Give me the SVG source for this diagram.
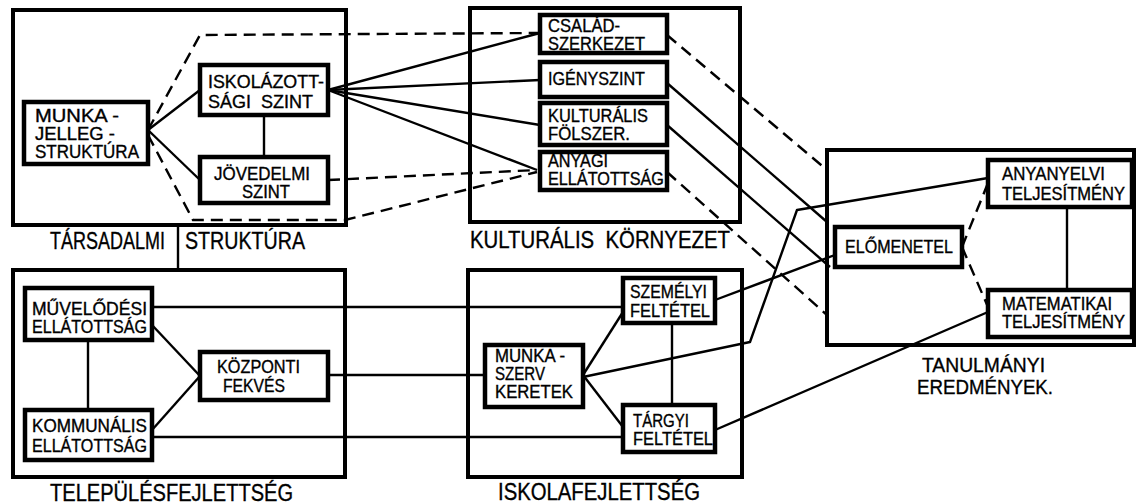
<svg xmlns="http://www.w3.org/2000/svg" width="1137" height="504" viewBox="0 0 1137 504">
<style>
.outer{fill:none;stroke:#000;stroke-width:4}
.box{fill:#fff;stroke:#000;stroke-width:4.5}
.ln{fill:none;stroke:#000;stroke-width:2.4;stroke-linejoin:round}
.ds{fill:none;stroke:#000;stroke-width:2.4;stroke-dasharray:12 7}
text{font-family:"Liberation Sans","DejaVu Sans",sans-serif;font-size:17.5px;fill:#000;stroke:#000;stroke-width:0.35}
.lab{font-size:23px}
.lab2{font-size:20px}
</style>
<rect width="1137" height="504" fill="#fff"/>
<g id="frames">
<rect class="outer" x="13" y="10" width="333" height="215"/>
<rect class="outer" x="470" y="8" width="270" height="214"/>
<rect class="outer" x="13" y="270" width="332" height="207"/>
<rect class="outer" x="468" y="270" width="274" height="207"/>
<rect class="outer" x="827" y="150" width="307" height="195"/>
</g>
<g id="connectors">
<line class="ln" x1="178" y1="225" x2="178" y2="270"/>
<line class="ln" x1="148" y1="130" x2="200" y2="90"/>
<line class="ln" x1="148" y1="130" x2="200" y2="180"/>
<line class="ln" x1="264" y1="115" x2="264" y2="157"/>
<polyline class="ds" points="148,130 200,35 538,33"/>
<polyline class="ds" points="148,135 193,220 345,220 537,172"/>
<line class="ds" x1="328" y1="180" x2="537" y2="170"/>
<line class="ln" x1="328" y1="90" x2="540" y2="33"/>
<line class="ln" x1="328" y1="90" x2="540" y2="80"/>
<line class="ln" x1="328" y1="90" x2="540" y2="125"/>
<line class="ln" x1="328" y1="90" x2="537" y2="170"/>
<line class="ds" x1="667" y1="35" x2="827" y2="170"/>
<line class="ln" x1="667" y1="83" x2="827" y2="222"/>
<line class="ln" x1="667" y1="125" x2="830" y2="267"/>
<line class="ds" x1="667" y1="172" x2="827" y2="315"/>
<line class="ln" x1="88" y1="340" x2="88" y2="410"/>
<line class="ln" x1="152" y1="325" x2="200" y2="376"/>
<line class="ln" x1="152" y1="430" x2="200" y2="376"/>
<line class="ln" x1="152" y1="307" x2="623" y2="307"/>
<line class="ln" x1="328" y1="375" x2="485" y2="375"/>
<line class="ln" x1="152" y1="437" x2="623" y2="437"/>
<line class="ln" x1="672" y1="323" x2="672" y2="405"/>
<line class="ln" x1="583" y1="375" x2="623" y2="312"/>
<line class="ln" x1="583" y1="375" x2="623" y2="427"/>
<polyline class="ln" points="583,377 750,342 797,210 988,178"/>
<line class="ln" x1="715" y1="300" x2="835" y2="255"/>
<line class="ln" x1="715" y1="430" x2="988" y2="312"/>
<line class="ln" x1="1067" y1="207" x2="1067" y2="290"/>
<line class="ds" x1="962" y1="247" x2="988" y2="183"/>
<line class="ds" x1="962" y1="247" x2="988" y2="307"/>
</g>
<g id="munka-jelleg">
<rect class="box" x="24" y="102" width="124" height="62"/>
<text x="35" y="122" textLength="84" lengthAdjust="spacingAndGlyphs">MUNKA -</text>
<text x="35" y="140" textLength="80" lengthAdjust="spacingAndGlyphs">JELLEG -</text>
<text x="35" y="158" textLength="104" lengthAdjust="spacingAndGlyphs">STRUKTÚRA</text>
</g>
<g id="iskolazottsag">
<rect class="box" x="200" y="65" width="128" height="50"/>
<text x="208" y="88" textLength="116" lengthAdjust="spacingAndGlyphs">ISKOLÁZOTT-</text>
<text x="208" y="108" textLength="105" lengthAdjust="spacingAndGlyphs" xml:space="preserve">SÁGI  SZINT</text>
</g>
<g id="jovedelmi">
<rect class="box" x="200" y="157" width="128" height="46"/>
<text x="214" y="180" textLength="96" lengthAdjust="spacingAndGlyphs">JÖVEDELMI</text>
<text x="242" y="198" textLength="48" lengthAdjust="spacingAndGlyphs">SZINT</text>
</g>
<g id="csalad">
<rect class="box" x="540" y="15" width="127" height="38"/>
<text x="548" y="32" textLength="72" lengthAdjust="spacingAndGlyphs">CSALÁD-</text>
<text x="548" y="50" textLength="97" lengthAdjust="spacingAndGlyphs">SZERKEZET</text>
</g>
<g id="igenyszint">
<rect class="box" x="540" y="62" width="127" height="35"/>
<text x="548" y="85" textLength="97" lengthAdjust="spacingAndGlyphs">IGÉNYSZINT</text>
</g>
<g id="kulturalis-folszer">
<rect class="box" x="540" y="103" width="127" height="42"/>
<text x="548" y="122" textLength="100" lengthAdjust="spacingAndGlyphs">KULTURÁLIS</text>
<text x="548" y="140" textLength="82" lengthAdjust="spacingAndGlyphs">FÖLSZER.</text>
</g>
<g id="anyagi">
<rect class="box" x="540" y="152" width="127" height="38"/>
<text x="548" y="167" textLength="60" lengthAdjust="spacingAndGlyphs">ANYAGI</text>
<text x="548" y="185" textLength="116" lengthAdjust="spacingAndGlyphs">ELLÁTOTTSÁG</text>
</g>
<g id="muvelodesi">
<rect class="box" x="25" y="288" width="127" height="52"/>
<text x="32" y="315" textLength="115" lengthAdjust="spacingAndGlyphs">MŰVELŐDÉSI</text>
<text x="32" y="333" textLength="115" lengthAdjust="spacingAndGlyphs">ELLÁTOTTSÁG</text>
</g>
<g id="kozponti">
<rect class="box" x="200" y="352" width="128" height="48"/>
<text x="217" y="373" textLength="83" lengthAdjust="spacingAndGlyphs">KÖZPONTI</text>
<text x="223" y="392" textLength="62" lengthAdjust="spacingAndGlyphs">FEKVÉS</text>
</g>
<g id="kommunalis">
<rect class="box" x="25" y="410" width="127" height="50"/>
<text x="32" y="432" textLength="115" lengthAdjust="spacingAndGlyphs">KOMMUNÁLIS</text>
<text x="32" y="452" textLength="115" lengthAdjust="spacingAndGlyphs">ELLÁTOTTSÁG</text>
</g>
<g id="szemelyi">
<rect class="box" x="623" y="278" width="92" height="45"/>
<text x="630" y="298" textLength="77" lengthAdjust="spacingAndGlyphs">SZEMÉLYI</text>
<text x="630" y="317" textLength="80" lengthAdjust="spacingAndGlyphs">FELTÉTEL</text>
</g>
<g id="munka-szerv">
<rect class="box" x="485" y="345" width="98" height="62"/>
<text x="495" y="362" textLength="70" lengthAdjust="spacingAndGlyphs">MUNKA -</text>
<text x="495" y="380" textLength="50" lengthAdjust="spacingAndGlyphs">SZERV</text>
<text x="495" y="398" textLength="78" lengthAdjust="spacingAndGlyphs">KERETEK</text>
</g>
<g id="targyi">
<rect class="box" x="623" y="405" width="92" height="47"/>
<text x="633" y="427" textLength="56" lengthAdjust="spacingAndGlyphs">TÁRGYI</text>
<text x="633" y="445" textLength="80" lengthAdjust="spacingAndGlyphs">FELTÉTEL</text>
</g>
<g id="elomenetel">
<rect class="box" x="835" y="227" width="127" height="40"/>
<text x="845" y="253" textLength="108" lengthAdjust="spacingAndGlyphs">ELŐMENETEL</text>
</g>
<g id="anyanyelvi">
<rect class="box" x="988" y="160" width="144" height="47"/>
<text x="1002" y="180" textLength="103" lengthAdjust="spacingAndGlyphs">ANYANYELVI</text>
<text x="1002" y="200" textLength="123" lengthAdjust="spacingAndGlyphs">TELJESÍTMÉNY</text>
</g>
<g id="matematikai">
<rect class="box" x="988" y="290" width="144" height="47"/>
<text x="1002" y="310" textLength="110" lengthAdjust="spacingAndGlyphs">MATEMATIKAI</text>
<text x="1002" y="328" textLength="123" lengthAdjust="spacingAndGlyphs">TELJESÍTMÉNY</text>
</g>
<g id="labels">
<text class="lab" x="50" y="249" textLength="115" lengthAdjust="spacingAndGlyphs">TÁRSADALMI</text>
<text class="lab" x="185" y="249" textLength="120" lengthAdjust="spacingAndGlyphs">STRUKTÚRA</text>
<text class="lab" x="470" y="248" textLength="260" lengthAdjust="spacingAndGlyphs" xml:space="preserve">KULTURÁLIS  KÖRNYEZET</text>
<text class="lab" x="50" y="501" textLength="243" lengthAdjust="spacingAndGlyphs">TELEPÜLÉSFEJLETTSÉG</text>
<text class="lab" x="498" y="500" textLength="202" lengthAdjust="spacingAndGlyphs">ISKOLAFEJLETTSÉG</text>
<text class="lab2" x="922" y="372" textLength="123" lengthAdjust="spacingAndGlyphs">TANULMÁNYI</text>
<text class="lab2" x="917" y="394" textLength="136" lengthAdjust="spacingAndGlyphs">EREDMÉNYEK.</text>
</g>
</svg>
